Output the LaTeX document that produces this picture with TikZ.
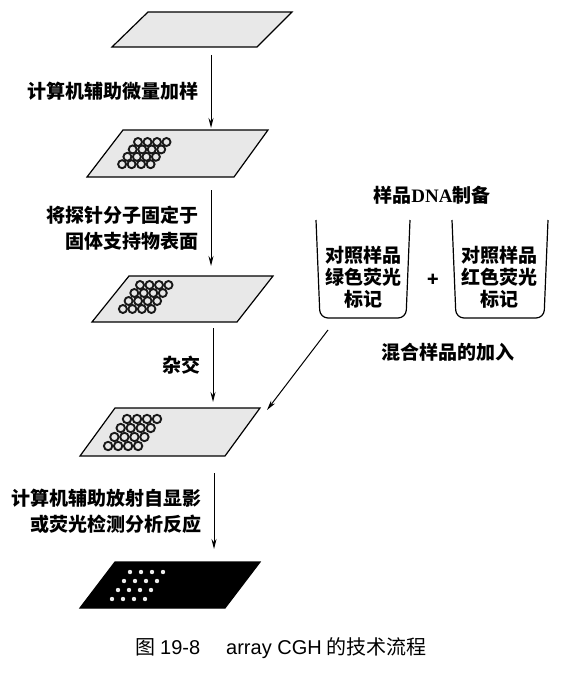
\documentclass[tikz,border=0pt]{standalone}
\usepackage{fontspec}
\newfontfamily\cjk{Noto Sans CJK SC}
\newfontfamily\latinserif{Liberation Serif}
\newfontfamily\latinsans{Liberation Sans}
\usetikzlibrary{arrows.meta}

\tikzstyle{invisible} = [outer sep=0,inner sep=0,minimum size=0]
\tikzstyle{slide} = [draw=black, line width=1.2pt, fill=gray!18]
\tikzstyle{flow} = [-{Stealth[length=10pt,width=5pt]}, draw=black, line width=1pt]
\tikzstyle{steptext} = [font=\cjk\bfseries\fontsize{19}{26}\selectfont, align=right, left, inner sep=12pt]
\tikzstyle{cuptext} = [font=\cjk\bfseries\fontsize{19}{22}\selectfont, align=center]
\tikzstyle{spot} = [draw=black!90, line width=1.9pt]
\tikzstyle{whitespot} = [fill=white!85!gray]

\begin{document}
\begin{tikzpicture}[x=1pt,y=-1pt]
\useasboundingbox (0,0) rectangle (564,674);

% SLIDES
\draw[slide] (148,12) -- (292,12) -- (257,47) -- (112,47) -- cycle;

\draw[slide] (123,130) -- (268,130) -- (234,177) -- (87,177) -- cycle;
\foreach \i in {0,...,3}
  \foreach \j in {0,...,3}
    \draw[spot] ({138+9.5*\j-5.3*\i},{142+7.4*\i}) circle (4);

\draw[slide] (129,276) -- (273,276) -- (237,322) -- (92,322) -- cycle;
\foreach \i in {0,...,3}
  \foreach \j in {0,...,3}
    \draw[spot] ({140+9.5*\j-5.7*\i},{285+8*\i}) circle (4);

\draw[slide] (115,408) -- (260,408) -- (225,456) -- (80,456) -- cycle;
\foreach \i in {0,...,3}
  \foreach \j in {0,...,3}
    \draw[spot] ({127+10*\j-6.3*\i},{419+9*\i}) circle (4.2);

\draw[slide, fill=black] (115,562) -- (260,562) -- (225,608) -- (80,608) -- cycle;
\foreach \i in {0,...,3}
  \foreach \j in {0,...,3}
    \fill[whitespot] ({130+11*\j-6*\i},{572+9*\i}) circle (2.2);


% STEPS
\node [invisible] (v1) at (211,55) {};
\node [invisible] (v2) at (211,128) {};
\draw[flow] (v1) edge node[midway, steptext] {计算机辅助微量加样} (v2);

\node [invisible] (v1_1) at (211,190) {};
\node [invisible] (v2_1) at (211,266) {};
\draw[flow] (v1_1) edge node[midway, steptext] {将探针分子固定于\\固体支持物表面} (v2_1);

\node [invisible] (v1_2) at (213,328) {};
\node [invisible] (v2_2) at (213,402) {};
\draw[flow] (v1_2) edge node[midway, steptext] {杂交} (v2_2);

\node [invisible] (v1_3) at (214,473) {};
\node [invisible] (v2_3) at (214,549) {};
\draw[flow] (v1_3) edge node[midway, steptext] {计算机辅助放射自显影\\或荧光检测分析反应} (v2_3);


% SAMPLE DNA
\draw[line width=1.2pt, rounded corners=8pt] (316,220) -- (320,318) -- (406,318) -- (410,220);
\draw[line width=1.2pt, rounded corners=8pt] (452,220) -- (456,318) -- (544,318) -- (548,220);

\node[cuptext] (green) at (363,277) {对照样品\\绿色荧光\\标记};
\node[cuptext] (red) at (499,277) {对照样品\\红色荧光\\标记};
\node[cuptext] (plus) at (433,280) {+};
\node[cuptext] (prep) at (432,195) {样品{\latinserif\bfseries DNA}制备};
\node[cuptext] (mix) at (448,352) {混合样品的加入};

\node [invisible] (v1_4) at (328,330) {};
\node [invisible] (v2_4) at (267,410) {};
\draw[flow] (v1_4) edge (v2_4);

\node[font=\cjk\fontsize{20}{22}\selectfont] (caption) at (281,648) {图 {\latinsans 19-8}\hspace{26pt}{\latinsans array CGH} 的技术流程};
\end{tikzpicture}
\end{document}
